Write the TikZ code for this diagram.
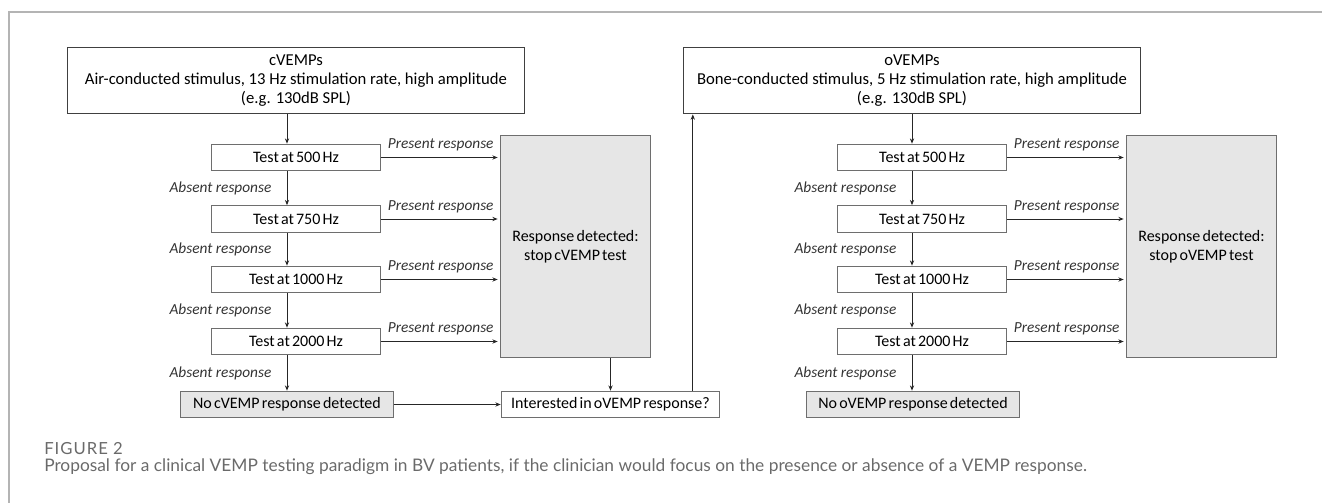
\documentclass[tikz,border=0pt]{standalone}
\usepackage{fontspec}
\setmainfont{Carlito}
\newfontfamily\boxfont{Carlito}[WordSpace=0.6]
\newfontfamily\capfont{Lato}
\usetikzlibrary{arrows.meta, positioning}

\definecolor{boxline}{HTML}{6E6E6E}
\definecolor{boxfill}{HTML}{E6E6E6}
\definecolor{frameline}{HTML}{B4B4B4}
\definecolor{captext}{HTML}{6A6A6A}

\tikzset{
  headbox/.style={draw=black!75, line width=0.8pt, minimum width=343pt, minimum height=50pt, align=center, font=\fontsize{12.5}{14.5}\selectfont, inner sep=0pt},
  testbox/.style={draw=boxline, line width=0.7pt, minimum width=127pt, minimum height=20pt, inner sep=0pt, font=\boxfont\fontsize{12}{14}\selectfont},
  endbox/.style={testbox, fill=boxfill},
  detbox/.style={endbox, minimum width=112pt, minimum height=167pt, align=center},
  arr/.style={-{Stealth[length=4pt,width=3.2pt]}, line width=0.75pt, black!85},
  yes/.style={midway, above=1pt, font=\fontsize{11.5}{13}\selectfont\itshape, black!80},
  no/.style={midway, left=8pt, font=\fontsize{11.5}{13}\selectfont\itshape, black!80}
}

\begin{document}
\begin{tikzpicture}[x=0.75pt, y=-0.75pt]
      \useasboundingbox (0,0) rectangle (1322,503);
      \draw[frameline, line width=1.1pt] (9,503) -- (9,12) -- (1322,12);

      % cVEMP side
      \node[headbox] (cv) at (296,80.5) {cVEMPs\\Air-conducted stimulus, 13 Hz stimulation rate, high amplitude\\(e.g. 130dB SPL)};
      \node[testbox] (ct1) at (296,157.5) {Test at 500 Hz};
      \node[testbox] (ct2) at (296,219) {Test at 750 Hz};
      \node[testbox] (ct3) at (296,279.5) {Test at 1000 Hz};
      \node[testbox] (ct4) at (296,341.5) {Test at 2000 Hz};
      \node[endbox, minimum width=159.5pt] (cno) at (287,404.5) {No cVEMP response detected};
      \node[detbox] (cdet) at (575.5,246.5) {Response detected:\\stop cVEMP test};
      \node[testbox, minimum width=164pt] (ask) at (610.5,404.5) {Interested in oVEMP response?};

      % oVEMP side
      \node[headbox] (ov) at (912,80.5) {oVEMPs\\Bone-conducted stimulus, 5 Hz stimulation rate, high amplitude\\(e.g. 130dB SPL)};
      \node[testbox] (ot1) at (922,157.5) {Test at 500 Hz};
      \node[testbox] (ot2) at (922,219) {Test at 750 Hz};
      \node[testbox] (ot3) at (922,279.5) {Test at 1000 Hz};
      \node[testbox] (ot4) at (922,341.5) {Test at 2000 Hz};
      \node[endbox, minimum width=159.5pt] (ono) at (913,404.5) {No oVEMP response detected};
      \node[detbox] (odet) at (1201.5,246.5) {Response detected:\\stop oVEMP test};

      % vertical chain
      \draw[arr] (cv.south -| cno) -- (ct1.north -| cno);
      \draw[arr] (ct1.south -| cno) -- node[no] {Absent response} (ct2.north -| cno);
      \draw[arr] (ct2.south -| cno) -- node[no] {Absent response} (ct3.north -| cno);
      \draw[arr] (ct3.south -| cno) -- node[no] {Absent response} (ct4.north -| cno);
      \draw[arr] (ct4.south -| cno) -- node[no] {Absent response} (cno.north);

      \draw[arr] (ov.south) -- (ot1.north -| ov);
      \draw[arr] (ot1.south -| ov) -- node[no] {Absent response} (ot2.north -| ov);
      \draw[arr] (ot2.south -| ov) -- node[no] {Absent response} (ot3.north -| ov);
      \draw[arr] (ot3.south -| ov) -- node[no] {Absent response} (ot4.north -| ov);
      \draw[arr] (ot4.south -| ov) -- node[no] {Absent response} (ono.north -| ov);

      % present responses
      \foreach \t in {ct1,ct2,ct3,ct4}
        \draw[arr, shorten >=2pt] (\t.east) -- node[yes] {Present response} (\t -| cdet.west);
      \foreach \t in {ot1,ot2,ot3,ot4}
        \draw[arr, shorten >=2pt] (\t.east) -- node[yes] {Present response} (\t -| odet.west);

      % towards oVEMP
      \coordinate (rise) at ([xshift=7.5pt]ov.south west);
      \draw[arr] (cdet.south -| ask) -- (ask.north);
      \draw[arr] (cno.east) -- (ask.west);
      \draw[arr] (rise |- ask.north) -- (rise);

      % caption
      \node[anchor=west, inner sep=0pt, text=captext, font=\capfont\addfontfeatures{LetterSpace=6}\fontsize{12.5}{14}\selectfont] (fig) at (44,449) {FIGURE 2};
      \node[anchor=west, inner sep=0pt, text=captext, font=\capfont\fontsize{13}{15}\selectfont] (cap) at (44,467) {Proposal for a clinical VEMP testing paradigm in BV patients, if the clinician would focus on the presence or absence of a VEMP response.};
    \end{tikzpicture}
\end{document}
